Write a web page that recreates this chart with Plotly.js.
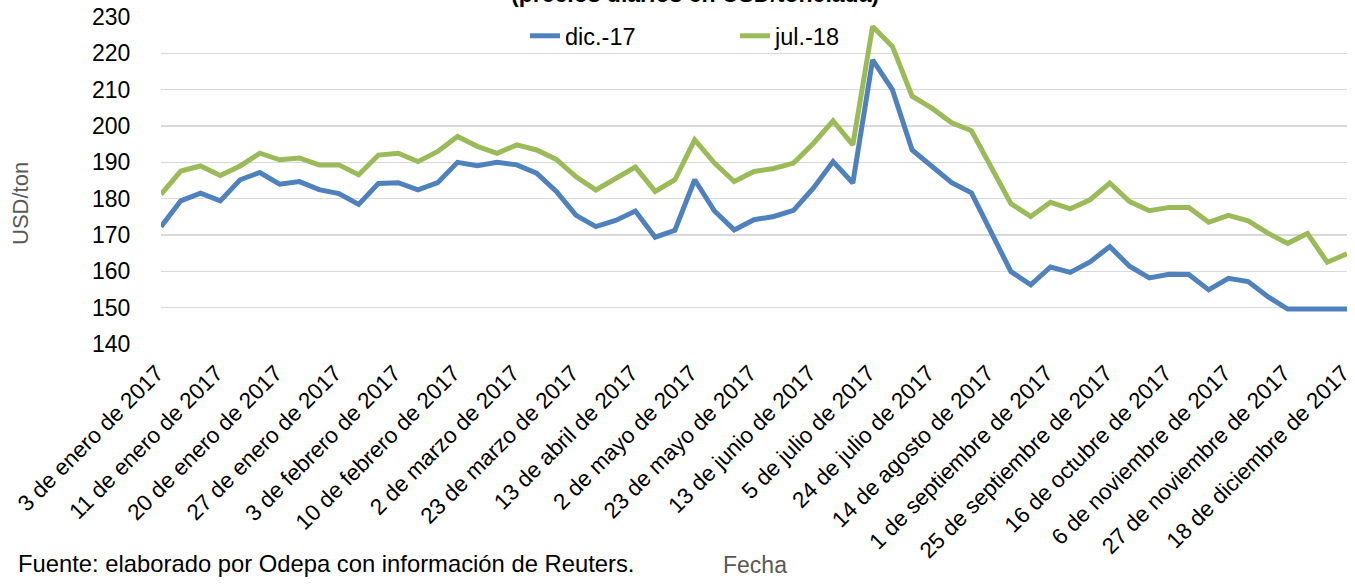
<!DOCTYPE html>
<html>
<head>
<meta charset="utf-8">
<script src="https://cdn.plot.ly/plotly-3.0.1.min.js"></script>
<style>html,body{margin:0;padding:0;background:#fff;}#chart{width:1355px;height:586px;}</style>
</head>
<body>
<div id="chart"></div>
<script>
const tickLabels = ["3 de enero de 2017","11 de enero de 2017","20 de enero de 2017","27 de enero de 2017","3 de febrero de 2017","10 de febrero de 2017","2 de marzo de 2017","23 de marzo de 2017","13 de abril de 2017","2 de mayo de 2017","23 de mayo de 2017","13 de junio de 2017","5 de julio de 2017","24 de julio de 2017","14 de agosto de 2017","1 de septiembre de 2017","25 de septiembre de 2017","16 de octubre de 2017","6 de noviembre de 2017","27 de noviembre de 2017","18 de diciembre de 2017"];

const dic17 = [172.3,179.4,181.5,179.4,185.2,187.2,184.0,184.7,182.5,181.4,
  178.4,184.2,184.4,182.4,184.4,190.0,189.1,190.0,189.3,187.0,
  182.0,175.4,172.3,174.0,176.6,169.4,171.3,185.2,176.6,171.4,
  174.2,175.1,176.8,182.9,190.2,184.3,218.2,210.0,193.4,189.0,
  184.4,181.6,170.8,159.9,156.3,161.2,159.7,162.6,166.8,161.4,
  158.2,159.2,159.1,154.9,158.1,157.2,153.0,149.6,149.6,149.6,149.6];

const jul18 = [181.2,187.6,189.0,186.4,189.0,192.5,190.7,191.2,189.3,189.3,
  186.6,192.0,192.5,190.2,193.0,197.1,194.4,192.5,194.8,193.4,
  190.8,186.0,182.4,185.6,188.7,182.0,185.2,196.2,189.8,184.7,
  187.5,188.3,189.8,195.2,201.4,194.8,227.4,221.9,208.2,204.9,
  200.9,198.7,188.8,178.6,175.1,179.0,177.2,179.7,184.3,179.2,
  176.7,177.6,177.6,173.5,175.4,173.9,170.5,167.7,170.4,162.5,164.8];

const labelStep = 3;
const idx = dic17.map((_, i) => i);
const tickVals = tickLabels.map((_, k) => k * labelStep);

const FONT = "Liberation Sans, Arial, sans-serif";

const traces = [
  {x: idx, y: dic17, name: "dic.-17", type: "scatter", mode: "lines",
   line: {color: "#4F81BD", width: 5, shape: "linear"}},
  {x: idx, y: jul18, name: "jul.-18", type: "scatter", mode: "lines",
   line: {color: "#9BBB59", width: 5, shape: "linear"}}
];

const layout = {
  width: 1355, height: 586,
  margin: {l: 161, r: 8, t: 17, b: 242, pad: 0},
  paper_bgcolor: "#fff", plot_bgcolor: "#fff",
  font: {family: FONT, color: "#000", size: 23},
  showlegend: true,
  legend: {orientation: "h", x: (525 - 161) / 1186, xanchor: "left", y: 1 - (36 - 17) / 327, yanchor: "middle",
           font: {family: FONT, size: 23.5, color: "#000"}, entrywidth: 165, entrywidthmode: "pixels",
           bgcolor: "rgba(0,0,0,0)", traceorder: "normal"},
  xaxis: {
    range: [0, idx.length - 1], showgrid: false, zeroline: false, showline: false,
    tickmode: "array", tickvals: tickVals, ticktext: tickLabels, tickangle: -45,
    ticklabeloverflow: "allow", ticklabelshift: -4,
    ticks: "outside", ticklen: 6, tickcolor: "rgba(0,0,0,0)",
    tickfont: {family: FONT, size: 22.5, color: "#000"}, fixedrange: true
  },
  yaxis: {
    range: [140, 230], dtick: 10, tick0: 140, showgrid: true, gridcolor: "#D9D9D9", gridwidth: 1.5,
    zeroline: false, showline: false, ticks: "outside", ticklen: 25, tickcolor: "rgba(0,0,0,0)",
    tickfont: {family: FONT, size: 23, color: "#000"}, fixedrange: true
  },
  annotations: [
    {text: "<b>(precios diarios en USD/tonelada)</b>", xref: "paper", yref: "paper",
     x: (695 - 161) / 1186, y: 1 + (17 + 6) / 327, xanchor: "center", yanchor: "middle",
     showarrow: false, font: {family: FONT, size: 23, color: "#000"}},
    {text: "USD/ton", xref: "paper", yref: "paper", x: (20 - 161) / 1186, y: (344 - 204) / 327,
     xanchor: "center", yanchor: "middle", textangle: -90, showarrow: false,
     font: {family: FONT, size: 22, color: "#595959"}},
    {text: "Fecha", xref: "paper", yref: "paper", x: (755 - 161) / 1186, y: (344 - 565) / 327,
     xanchor: "center", yanchor: "middle", showarrow: false,
     font: {family: FONT, size: 23, color: "#595959"}},
    {text: "Fuente: elaborado por Odepa con información de Reuters.", xref: "paper", yref: "paper",
     x: (16 - 161) / 1186, y: (344 - 563) / 327, xanchor: "left", yanchor: "middle", showarrow: false,
     font: {family: FONT, size: 23.8, color: "#000"}}
  ]
};

Plotly.newPlot("chart", traces, layout, {displayModeBar: false, staticPlot: true});
</script>
</body>
</html>
